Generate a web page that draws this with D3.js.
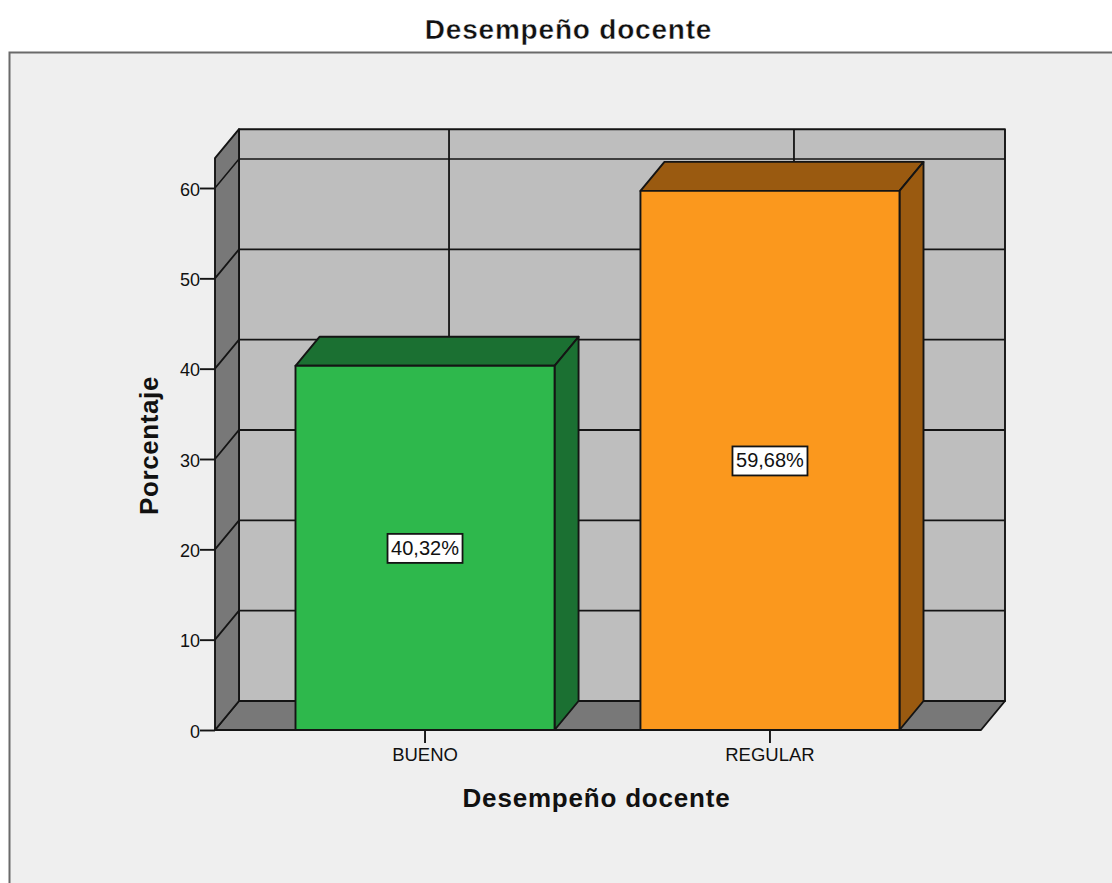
<!DOCTYPE html>
<html><head><meta charset="utf-8"><style>html,body{margin:0;padding:0;background:#fff}svg{display:block}text{font-family:"Liberation Sans",Arial,sans-serif;fill:#111}</style>
<script src="https://cdn.jsdelivr.net/npm/d3@7/dist/d3.min.js"></script></head><body>
<script>
const categories=["BUENO","REGULAR"];
const values=[40.32,59.68];
const valueLabels=["40,32%","59,68%"];
const barColors=["#2EB84C","#FB981D"];
const topColors=["#1B7032","#9A5A10"];
const yTicks=[0,10,20,30,40,50,60];
const chartTitle="Desempeño docente", xTitle="Desempeño docente", yTitle="Porcentaje";

const W=1112,H=883, dx=24, dy=-29, yMax=63.3, xLeft=215, xRight=981;
const svg=d3.select("body").append("svg").attr("width",W).attr("height",H);
const y=d3.scaleLinear().domain([0,60]).range([730,188]);
const x=d3.scaleBand().domain(categories).range([295.5,899.5]).paddingInner(0.249);
const stroke="#141414";
const poly=(pts,fill,sw=1.9)=>svg.append("path").attr("d",d3.line()(pts)+"Z").attr("fill",fill).attr("stroke",stroke).attr("stroke-width",sw).attr("stroke-linejoin","round");

svg.append("rect").attr("x",9.5).attr("y",52.5).attr("width",W+20).attr("height",H).attr("fill","#EFEFEF").attr("stroke","#6a6a6a").attr("stroke-width",2);
svg.append("text").attr("x",568.5).attr("y",39).attr("text-anchor","middle").attr("font-size",28).style("font-weight","bold").style("letter-spacing","0.8px").style("stroke","#fff").style("stroke-width","0.4px").text(chartTitle);

// back wall, floor, side wall
poly([[xLeft+dx,y(0)+dy],[xRight+dx,y(0)+dy],[xRight+dx,y(yMax)+dy],[xLeft+dx,y(yMax)+dy]],"#BEBEBE");
poly([[xLeft,y(0)],[xLeft+dx,y(0)+dy],[xRight+dx,y(0)+dy],[xRight,y(0)]],"#787878");
poly([[xLeft,y(0)],[xLeft+dx,y(0)+dy],[xLeft+dx,y(yMax)+dy],[xLeft,y(yMax)]],"#787878");

// gridlines
yTicks.filter(t=>t>0).forEach(t=>{
  svg.append("path").attr("d",d3.line()([[xLeft,y(t)],[xLeft+dx,y(t)+dy],[xRight+dx,y(t)+dy]])).attr("fill","none").attr("stroke",stroke).attr("stroke-width",t===60?1.5:1.8);
});
categories.forEach(c=>{
  const cx=x(c)+x.bandwidth()/2+dx;
  svg.append("line").attr("x1",cx).attr("x2",cx).attr("y1",y(yMax)+dy).attr("y2",y(0)+dy).attr("stroke",stroke).attr("stroke-width",1.8);
});

// y axis
const axisY=svg.append("g").attr("transform",`translate(${xLeft},0)`).call(d3.axisLeft(y).tickValues(yTicks).tickSize(15).tickPadding(0).tickFormat(d3.format("d")));
axisY.select(".domain").remove();
axisY.selectAll("line").attr("stroke",stroke).attr("stroke-width",1.9);
axisY.selectAll("text").attr("font-size",18).attr("dy","0.4em").style("font-family",'"Liberation Sans",Arial,sans-serif').attr("fill","#111");

// bars
categories.forEach((c,i)=>{
  const x0=x(c),x1=x0+x.bandwidth(),yt=y(values[i]),yb=y(0);
  poly([[x0,yt],[x0+dx,yt+dy],[x1+dx,yt+dy],[x1,yt]],topColors[i]);
  poly([[x1,yt],[x1+dx,yt+dy],[x1+dx,yb+dy],[x1,yb]],topColors[i]);
  poly([[x0,yt],[x1,yt],[x1,yb],[x0,yb]],barColors[i]);
  const cx=(x0+x1)/2, cy=(yt+yb)/2+1;
  svg.append("rect").attr("x",cx-37.5).attr("y",cy-15).attr("width",75).attr("height",29).attr("fill","#fff").attr("stroke",stroke).attr("stroke-width",1.8);
  svg.append("text").attr("x",cx).attr("y",cy+6).attr("text-anchor","middle").attr("font-size",20).text(valueLabels[i]);
});

// x axis
const axisX=svg.append("g").attr("transform",`translate(0,${y(0)})`).call(d3.axisBottom(x).tickSize(13).tickPadding(5));
axisX.select(".domain").remove();
axisX.selectAll("line").attr("stroke",stroke).attr("stroke-width",1.9);
axisX.selectAll("text").attr("font-size",18.5).attr("fill","#111").style("font-family",'"Liberation Sans",Arial,sans-serif');
svg.append("line").attr("x1",xLeft).attr("x2",xRight).attr("y1",y(0)).attr("y2",y(0)).attr("stroke",stroke).attr("stroke-width",2.2);

svg.append("text").attr("x",596.5).attr("y",807).attr("text-anchor","middle").attr("font-size",26).style("font-weight","bold").style("letter-spacing","0.8px").text(xTitle);
svg.append("text").attr("transform","translate(158,445.5) rotate(-90)").attr("text-anchor","middle").attr("font-size",26).style("font-weight","bold").style("letter-spacing","0.6px").text(yTitle);
</script></body></html>
